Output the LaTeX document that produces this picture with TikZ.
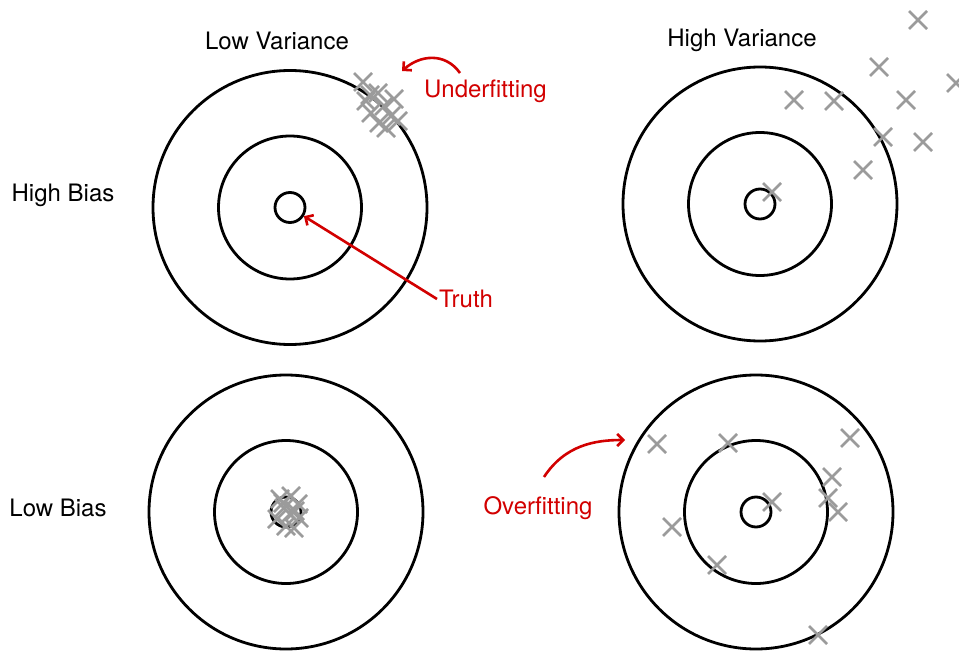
\documentclass[tikz,border=0pt]{standalone}
\usepackage{fontspec}
\setmainfont{TeX Gyre Heros}
\usetikzlibrary{arrows.meta}
\definecolor{ared}{RGB}{210,0,0}
\definecolor{xgray}{RGB}{155,155,155}
\begin{document}
\begin{tikzpicture}[x=1pt,y=-1pt,
  ring/.style={circle,draw=black,line width=2.8pt,inner sep=0pt},
  lbl/.style={font=\fontsize{24}{28}\selectfont,inner sep=2pt},
  rlbl/.style={lbl,text=ared},
  redarrow/.style={draw=ared,line width=2.6pt,-{Straight Barb[length=6pt,width=12pt,line width=2.6pt]}},
  xx/.pic={\draw[xgray,line width=2.8pt] (-9,-9)--(9,9) (-9,9)--(9,-9);}]
\useasboundingbox (0,0) rectangle (959,658);
% rings
\foreach \n/\cx/\cy in {tl/290/207.5, tr/760/204, bl/286/512, br/756/512}{
  \node[ring,minimum size=274pt] (\n2) at (\cx,\cy) {};
  \node[ring,minimum size=143pt] (\n1) at (\cx,\cy) {};
  \node[ring,minimum size=30pt] (\n0) at (\cx,\cy) {};
}
% labels
\node[lbl] (lowvar) at (277,41) {Low Variance};
\node[lbl] (highvar) at (742,40) {High Variance};
\node[lbl] (highbias) at (63,195) {High Bias};
\node[lbl] (lowbias) at (58,508) {Low Bias};
\node[rlbl,anchor=west] (under) at (422,91) {Underfitting};
\node[rlbl,anchor=west] (truth) at (437,299) {Truth};
\node[rlbl] (over) at (538,508) {Overfitting};
% crosses top-left (cluster)
\foreach \px/\py in {363/82, 366/101, 378/93, 371/113, 384/106, 394/99, 379/123, 391/116, 398/121, 386/128, 370/95}
  \pic at (\px,\py) {xx};
% crosses bottom-left (cluster)
\foreach \px/\py in {280/499, 291/496, 298/504, 284/508, 290/514, 277/519, 299/518, 286/526, 294/528, 283/503, 295/511}
  \pic at (\px,\py) {xx};
% crosses top-right
\foreach \px/\py in {918/20, 879/67, 794/100, 834/101, 906/100, 956/83, 883/137, 923/142, 863/170, 772/192}
  \pic at (\px,\py) {xx};
% crosses bottom-right
\foreach \px/\py in {657/444, 728/443, 850/438, 832/477, 828/498, 838/512, 772/502, 672/527, 717/565, 818/635}
  \pic at (\px,\py) {xx};
% arrows
\coordinate (uEnd) at (402,71);
\coordinate (uStart) at (460,73);
\draw[redarrow] (uStart) .. controls (445,52) and (420,55) .. (uEnd);
\draw[redarrow] (truth.west) -- (tl0);
\coordinate (oStart) at (544,477);
\coordinate (oEnd) at (625,440);
\draw[redarrow] (oStart) .. controls (565,445) and (595,440) .. (oEnd);
\end{tikzpicture}
\end{document}
